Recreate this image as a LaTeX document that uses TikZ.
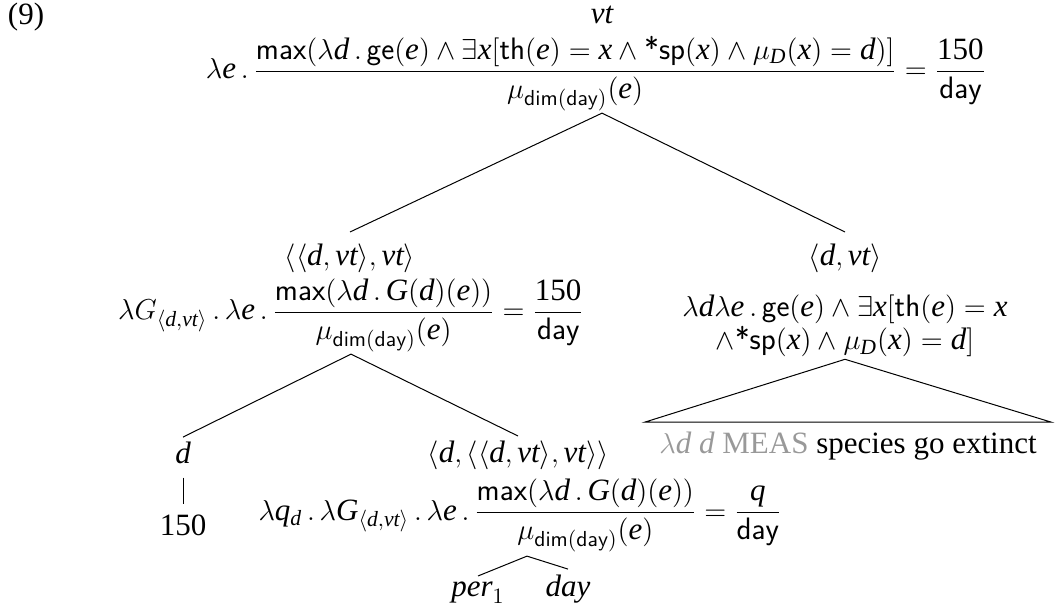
\documentclass[tikz,border=0pt]{standalone}
\usepackage{amsmath}
\usepackage{fontspec}
\setmainfont{Liberation Serif}
\definecolor{measgray}{gray}{0.6}
\tikzset{
  lbl/.style={inner sep=1pt, font=\fontsize{15.5}{18}\selectfont},
  edge/.style={line width=0.5pt},
}
\newcommand{\sfm}[1]{\mathsf{#1}}
\newcommand{\mv}[1]{\mathit{#1}}
\newcommand{\sfast}{\mbox{\sffamily *}}
\newcommand{\dimday}{\mu_{\sfm{dim(day)}}(\mv{e})}
\newcommand{\tdvt}{\langle \mv{d},\mv{vt}\rangle}
\begin{document}
\begin{tikzpicture}[x=0.5pt,y=-0.5pt]
\useasboundingbox (0,0) rectangle (1055,609);
% example number
\node[lbl, anchor=base] (ex) at (26,25) {(9)};
% root
\node[lbl, anchor=base] (t0) at (602,24) {$\mv{vt}$};
\node[lbl, anchor=base] (f0) at (596,79) {$\lambda \mv{e}\,.\,\dfrac{\sfm{max}(\lambda \mv{d}\,.\,\sfm{ge}(\mv{e})\land\exists \mv{x}[\sfm{th}(\mv{e})=\mv{x}\land\sfast\sfm{sp}(\mv{x})\land\mu_{\mv{D}}(\mv{x})=\mv{d})]}{\dimday} = \dfrac{\mathrm{150}}{\sfm{day}}$};
% left child
\node[lbl, anchor=base] (t1) at (350,266) {$\langle\tdvt,\mv{vt}\rangle$};
\node[lbl, anchor=base] (f1) at (351,320) {$\lambda G_{\tdvt}\,.\,\lambda \mv{e}\,.\,\dfrac{\sfm{max}(\lambda \mv{d}\,.\,\mv{G}(\mv{d})(\mv{e}))}{\dimday} = \dfrac{\mathrm{150}}{\sfm{day}}$};
% right child
\node[lbl, anchor=base] (t2) at (845,266) {$\tdvt$};
\node[lbl, anchor=center, align=center] (f2) at (845,326) {$\lambda \mv{d}\lambda \mv{e}\,.\,\sfm{ge}(\mv{e})\land\exists \mv{x}[\sfm{th}(\mv{e})=\mv{x}$\\[-1.5pt]$\land\sfast\sfm{sp}(\mv{x})\land\mu_{\mv{D}}(\mv{x})=\mv{d}]$};
\node[lbl, anchor=base, inner xsep=7pt, inner ysep=4.5pt] (tri) at (848,453) {\textcolor{measgray}{$\lambda \mv{d}$ \textit{d} MEAS} species go extinct};
% left-left leaf
\node[lbl, anchor=base] (t3) at (183,463) {$\mv{d}$};
\node[lbl, anchor=base] (n3) at (183,535) {150};
% left-right
\node[lbl, anchor=base] (t4) at (518,462) {$\langle \mv{d},\langle\tdvt,\mv{vt}\rangle\rangle$};
\node[lbl, anchor=base] (f4) at (520,520) {$\lambda \mv{q}_{\mv{d}}\,.\,\lambda \mv{G}_{\tdvt}\,.\,\lambda \mv{e}\,.\,\dfrac{\sfm{max}(\lambda \mv{d}\,.\,\mv{G}(\mv{d})(\mv{e}))}{\dimday} = \dfrac{\mv{q}}{\sfm{day}}$};
\node[lbl, anchor=base] (n5) at (478,596) {$\mv{per}_{1}$};
\node[lbl, anchor=base] (n6) at (568,596) {$\mv{day}$};
% connectors
\draw[edge] ([xshift=3pt]f0.south) -- ([yshift=5pt]t1.north);
\draw[edge] ([xshift=3pt]f0.south) -- ([yshift=5pt]t2.north);
\draw[edge] (f2.south) -- (tri.north west) -- (tri.north east) -- cycle;
\draw[edge] (f1.south) -- ([yshift=1pt]t3.north);
\draw[edge] (f1.south) -- ([yshift=1pt]t4.north);
\draw[edge, shorten <=6pt, shorten >=4pt] (t3.south) -- (n3.north);
\draw[edge] ([xshift=3.5pt,yshift=-1pt]f4.south) -- ([yshift=1.5pt]n5.north);
\draw[edge] ([xshift=3.5pt,yshift=-1pt]f4.south) -- ([yshift=1.5pt]n6.north);
\end{tikzpicture}
\end{document}
